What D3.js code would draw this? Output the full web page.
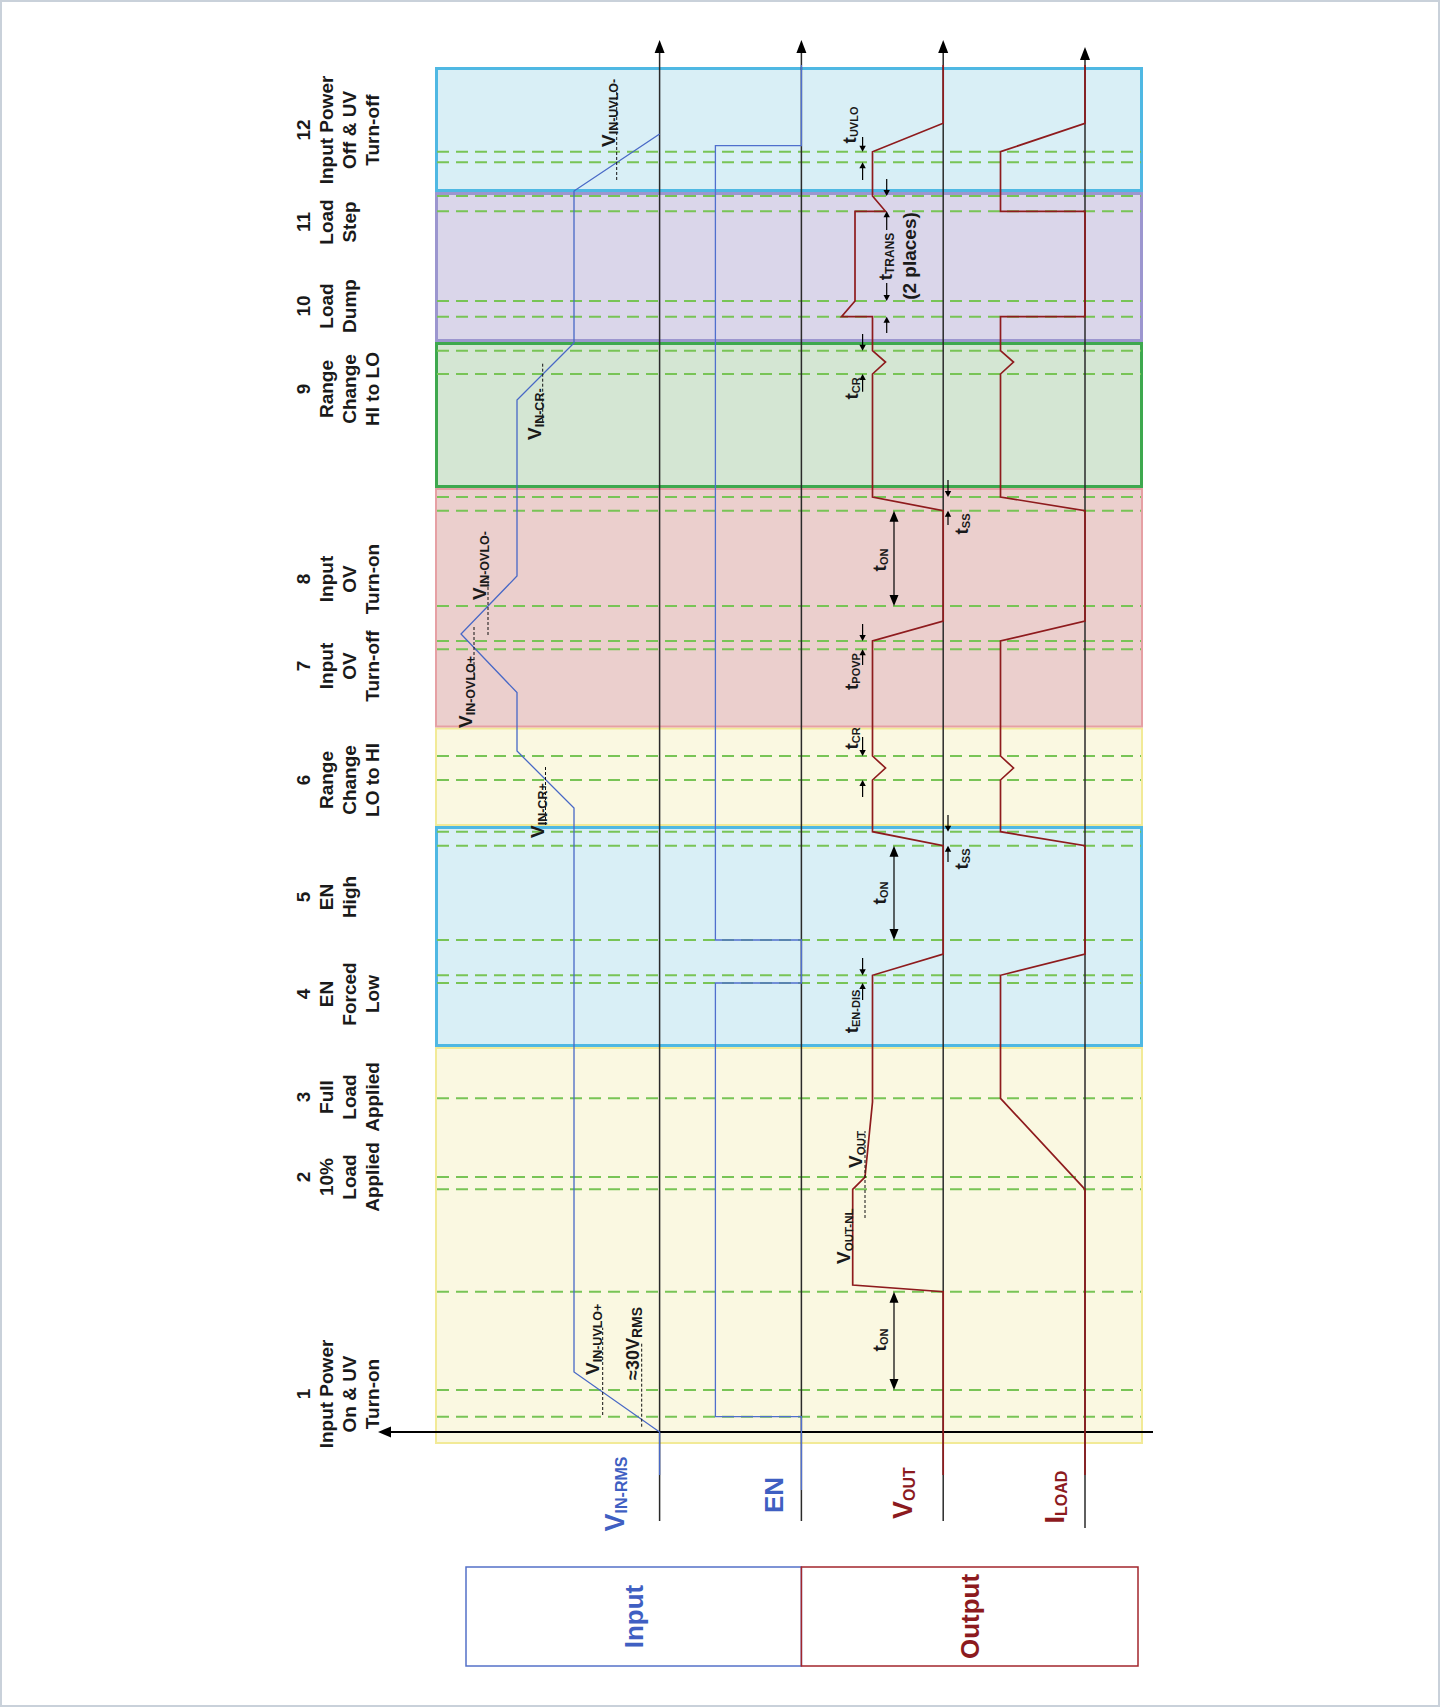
<!DOCTYPE html>
<html>
<head>
<meta charset="utf-8">
<script src="https://cdn.jsdelivr.net/npm/d3@7"></script>
<style>
  body { margin: 0; background: #fff; }
  svg { display: block; }
  text { font-family: "Liberation Sans", Arial, Helvetica, sans-serif; font-weight: bold; }
</style>
</head>
<body>
<svg id="chart" width="1440" height="1707"></svg>
<script>
// ---------------- data ----------------
// Signals (one vertical trace each) and their labels
const signalNames = ["VIN", "EN", "VOUT", "ILOAD"];
const signalMain  = ["V", "EN", "V", "I"];
const signalSub   = ["IN-RMS", "", "OUT", "LOAD"];
const signalGroup = ["input", "input", "output", "output"];
const axisTop     = [139.2, 139.2, 139.2, 138.5];
const axisBottom  = [-8.9, -8.9, -8.9, -9.6];

// Traces: [time, level]; level 0 sits on the signal's own axis
const vinTrace = [[-4.3,0],[0,0],[6.0,42.8],[62.4,42.8],[68.1,71.3],[73.95,71.3],[79.8,99.3],
  [85.6,71.3],[103.2,71.3],[108.9,42.8],[124.1,42.8],[129.8,0]];
const enTrace = [[-5.8,0],[1.53,0],[1.53,43],[44.9,43],[44.9,0],[49.2,0],[49.2,43],
  [128.63,43],[128.63,0],[136.7,0]];
const voutTrace = [[-4.3,0],[14.03,0],[14.7,45.25],[24.27,45.25],[25.5,39.1],[33.0,35.35],
  [45.67,35.35],[47.8,0],[58.63,0],[60.03,35.35],[65.2,35.35],[66.4,28.85],[67.6,35.35],
  [79.1,35.35],[81.1,0],[92.13,0],[93.5,35.35],[105.8,35.35],[107.0,28.85],[108.13,35.35],
  [111.53,35.35],[111.53,50.85],[113.1,44.1],[122.07,44.1],[122.07,28.85],[123.6,35.35],
  [128.03,35.35],[130.87,0],[136.7,0]];
const iloadTrace = [[-4.3,0],[24.27,0],[33.37,42.25],[45.67,42.25],[47.8,0],[58.63,0],
  [60.03,42.25],[65.2,42.25],[66.4,35.75],[67.6,42.25],[79.1,42.25],[81.1,0],[92.13,0],
  [93.5,42.25],[105.8,42.25],[107.0,35.75],[108.13,42.25],[111.53,42.25],[111.53,0],
  [122.07,0],[122.07,42.25],[128.03,42.25],[130.87,0],[136.7,0]];

// Event instants (green dashed guides)
const eventTimes = [1.53, 4.2, 14.03, 24.27, 25.5, 33.37, 44.9, 45.67, 49.2, 58.63, 60.03,
  65.2, 67.6, 78.27, 79.1, 82.6, 92.13, 93.5, 105.8, 108.13, 111.53, 113.1, 122.07, 123.6,
  126.97, 128.03];

// Operating phases (shaded bands)
const zoneBounds = [[-1.2,38.5],[38.5,60.6],[60.6,70.45],[70.45,94.4],[94.4,109.0],[109.0,124.0],[124.0,136.5]];
const zoneKinds  = ["yellow","cyan","yellow","pink","green","purple","cyan"];

// Phase captions
const stepNumbers = ["1","2","3","4","5","6","7","8","9","10","11","12"];
const stepText = [
  ["Input Power","On & UV","Turn-on"],
  ["10%","Load","Applied"],
  ["Full","Load","Applied"],
  ["EN","Forced","Low"],
  ["EN","High"],
  ["Range","Change","LO to HI"],
  ["Input","OV","Turn-off"],
  ["Input","OV","Turn-on"],
  ["Range","Change","HI to LO"],
  ["Load","Dump"],
  ["Load","Step"],
  ["Input Power","Off & UV","Turn-off"]
];
const stepCenters = [3.8, 25.5, 33.5, 43.8, 53.5, 65.2, 76.6, 85.3, 104.3, 112.6, 121.0, 130.2];

// Threshold markers (dotted reference + label)
const thresholdSignal = ["VIN","VIN","VIN","VIN","VIN","VIN","VIN","VOUT","VOUT"];
const thresholdMain   = ["V","≈30V","V","V","V","V","V","V","V"];
const thresholdSub    = ["IN-UVLO+","RMS","IN-CR+","IN-OVLO+","IN-OVLO-","IN-CR-","IN-UVLO-","OUT","OUT-NL"];
const thresholdLevel  = [28.45, 8.95, 57.05, 92.8, 85.8, 58.45, 21.45, 39.1, null];
const thresholdSpan   = [[1.7,10.43],[0.53,8.93],[60.7,66.5],[75.2,80.5],[79.7,85.5],[101.03,106.9],[125.2,134.03],[21.4,30.1], null];
const thresholdLabelStart = [5.7, 5.2, 59.4, 70.4, 83.2, 99.2, 128.5, 26.4, 16.8];
const thresholdLabelLevel = [30.3, 10.3, 57.8, 93.8, 86.8, 59.3, 22.3, 40.6, 46.6];

// Timing arrows on the output side: [level, tail time, tip time]
const timingArrows = [
  [40.3,47.4,45.67],[40.3,43.2,44.9],      // tEN-DIS
  [-2.4,61.7,60.03],[-2.4,57.0,58.63],     // tSS
  [40.3,69.5,67.6],[40.3,63.5,65.2],       // tCR
  [40.3,80.8,79.1],[40.3,76.7,78.27],      // tPOVP
  [-2.4,95.2,93.5],[-2.4,90.7,92.13],      // tSS
  [40.3,109.8,108.13],[40.3,104.03,105.8], // tCR
  [28.25,109.9,111.53],[28.25,114.9,113.1],// tTRANS (dump)
  [28.25,120.2,122.07],[28.25,125.3,123.6],// tTRANS (step)
  [40.3,129.5,128.03],[40.3,125.2,126.97]  // tUVLO
];
// Turn-on delay spans (double headed): [level, from, to]
const tonSpans = [[24.6,4.2,14.03],[24.6,49.2,58.63],[24.6,82.6,92.13]];

// Timing labels
const timingSub    = ["ON","ON","ON","EN-DIS","SS","CR","POVP","SS","CR","TRANS","UVLO"];
const timingCenter = [9.2, 53.9, 87.2, 42.05, 57.3, 69.35, 76.05, 90.8, 104.35, 117.55, 130.7];
const timingLevel  = [28.6, 28.6, 28.6, 42.6, -12.4, 42.6, 42.6, -12.4, 42.6, 25.6, 43.6];
const noteText = "(2 places)";
const noteCenter = 117.6;
const noteLevel = 13.6;

// Legend
const legendNames = ["Input", "Output"];

// ---------------- layout & scales ----------------
const svg = d3.select("#chart");
const W = 1440, H = 1707;
const plotLeft = 435, plotRight = 1143;

const y = d3.scaleLinear().domain([0, 139.2]).range([1432, 40]);
const axisX = d3.scalePoint().domain(signalNames).range([659.6, 1085]);
const amp = d3.scaleLinear().domain([0, 100]).range([0, 200]);
const xOf = (sig, v) => axisX(sig) - amp(v);

const BLUE = "#3f5fc2", RED = "#8c1a1e";
const zoneStyle = {
  yellow: { fill: "#faf8e1", stroke: "#f2ea97", sw: 2 },
  cyan:   { fill: "#d9eff6", stroke: "#4fb8e3", sw: 3 },
  pink:   { fill: "#ebcfcd", stroke: "#e6a0a4", sw: 2 },
  green:  { fill: "#d4e6d3", stroke: "#3ea84e", sw: 3 },
  purple: { fill: "#dad6ea", stroke: "#9c96cf", sw: 3 }
};

// page frame
svg.append("rect").attr("x", 1).attr("y", 1).attr("width", W - 2).attr("height", H - 2)
  .attr("fill", "#fff").attr("stroke", "#c9d1da").attr("stroke-width", 2);

// phase bands
const zones = zoneBounds.map((b, i) => ({ b, k: zoneKinds[i] }));
svg.append("g").selectAll("rect").data(zones).join("rect")
  .attr("x", d => plotLeft + zoneStyle[d.k].sw / 2)
  .attr("y", d => y(d.b[1]) + zoneStyle[d.k].sw / 2)
  .attr("width", d => plotRight - plotLeft - zoneStyle[d.k].sw)
  .attr("height", d => y(d.b[0]) - y(d.b[1]) - zoneStyle[d.k].sw)
  .attr("fill", d => zoneStyle[d.k].fill)
  .attr("stroke", d => zoneStyle[d.k].stroke)
  .attr("stroke-width", d => zoneStyle[d.k].sw);

// event guides
svg.append("g").selectAll("line").data(eventTimes).join("line")
  .attr("x1", plotLeft + 2).attr("x2", plotRight - 2)
  .attr("y1", d => y(d)).attr("y2", d => y(d))
  .attr("stroke", "#78c456").attr("stroke-width", 2).attr("stroke-dasharray", "12,7");

// signal axes with arrow heads
const axesG = svg.append("g");
signalNames.forEach((s, i) => {
  const x = axisX(s);
  axesG.append("line").attr("x1", x).attr("x2", x)
    .attr("y1", y(axisBottom[i])).attr("y2", y(axisTop[i]) + 6)
    .attr("stroke", "#2a2a2a").attr("stroke-width", 1.5);
  const ty = y(axisTop[i]);
  axesG.append("path").attr("d", `M${x},${ty} L${x - 5},${ty + 13} L${x + 5},${ty + 13} Z`).attr("fill", "#000");
});

// time axis (pointing left)
const taY = y(0), taL = 378, taR = 1153;
axesG.append("line").attr("x1", taR).attr("x2", taL + 8).attr("y1", taY).attr("y2", taY)
  .attr("stroke", "#000").attr("stroke-width", 2);
axesG.append("path").attr("d", `M${taL},${taY} L${taL + 13},${taY - 5.5} L${taL + 13},${taY + 5.5} Z`).attr("fill", "#000");

// traces
const traces = [
  { sig: "VIN", data: vinTrace, color: "#4868c6", w: 1.3 },
  { sig: "EN", data: enTrace, color: "#4f6fcd", w: 1.3 },
  { sig: "VOUT", data: voutTrace, color: "#8e1b1d", w: 1.7 },
  { sig: "ILOAD", data: iloadTrace, color: "#8e1b1d", w: 1.7 }
];
const traceG = svg.append("g").attr("fill", "none").attr("stroke-linejoin", "miter");
traces.forEach(t => {
  const line = d3.line().x(d => xOf(t.sig, d[1])).y(d => y(d[0]));
  traceG.append("path").attr("d", line(t.data)).attr("stroke", t.color).attr("stroke-width", t.w);
});

// helper for rotated text with a subscript
function rotatedLabel(g, x, yy, main, sub, o) {
  const grp = g.append("g").attr("transform", `translate(${x},${yy}) rotate(-90)`);
  const txt = grp.append("text").attr("text-anchor", o.anchor || "start").attr("fill", o.color || "#1a1a1a");
  txt.append("tspan").attr("font-size", o.size).text(main);
  if (sub) txt.append("tspan").attr("font-size", o.subSize).attr("dy", o.subShift).text(sub);
  return grp;
}

// threshold markers
const thrG = svg.append("g");
thresholdSub.forEach((sub, i) => {
  const s = thresholdSignal[i];
  if (thresholdLevel[i] !== null) {
    const x = xOf(s, thresholdLevel[i]);
    thrG.append("line").attr("x1", x).attr("x2", x)
      .attr("y1", y(thresholdSpan[i][0])).attr("y2", y(thresholdSpan[i][1]))
      .attr("stroke", "#111").attr("stroke-width", 1).attr("stroke-dasharray", "3,2");
  }
  const big = thresholdMain[i] !== "V";
  const subSize = big ? 14 : (s === "VIN" ? 12.5 : 11.5);
  rotatedLabel(thrG, xOf(s, thresholdLabelLevel[i]), y(thresholdLabelStart[i]), thresholdMain[i], sub,
    { size: big ? 18 : 19, subSize: subSize, subShift: 3, anchor: "start" });
});

// timing arrows
const arrG = svg.append("g");
function arrowHead(x, tipY, dir, len, half) {
  // dir = -1 means pointing up (toward smaller y), +1 pointing down
  const b = tipY - dir * len;
  arrG.append("path").attr("d", `M${x},${tipY} L${x - half},${b} L${x + half},${b} Z`).attr("fill", "#000");
}
timingArrows.forEach(a => {
  const x = xOf("VOUT", a[0]);
  const yt = y(a[1]), yp = y(a[2]);
  const dir = yp > yt ? 1 : -1;
  arrG.append("line").attr("x1", x).attr("x2", x).attr("y1", yt).attr("y2", yp - dir * 4)
    .attr("stroke", "#000").attr("stroke-width", 1.2);
  arrowHead(x, yp, dir, 6, 3.2);
});
tonSpans.forEach(a => {
  const x = xOf("VOUT", a[0]);
  const y1 = y(a[1]), y2 = y(a[2]);
  arrG.append("line").attr("x1", x).attr("x2", x).attr("y1", y1 - 8).attr("y2", y2 + 8)
    .attr("stroke", "#000").attr("stroke-width", 1.2);
  arrowHead(x, y1, 1, 11, 4.5);
  arrowHead(x, y2, -1, 11, 4.5);
});

// timing labels
timingSub.forEach((sub, i) => {
  rotatedLabel(arrG, xOf("VOUT", timingLevel[i]), y(timingCenter[i]), "t", sub,
    { size: 19, subSize: sub === "TRANS" ? 12 : 11, subShift: 2, anchor: "middle" });
});
arrG.append("g").attr("transform", `translate(${xOf("VOUT", noteLevel)},${y(noteCenter)}) rotate(-90)`)
  .append("text").attr("text-anchor", "middle").attr("font-size", 19).attr("fill", "#1a1a1a").text(noteText);

// phase captions on the left
const capG = svg.append("g");
stepNumbers.forEach((n, i) => {
  const g = capG.append("g").attr("transform", `translate(310,${y(stepCenters[i])}) rotate(-90)`);
  [n].concat(stepText[i]).forEach((ln, j) => {
    g.append("text").attr("x", 0).attr("y", j * 23).attr("text-anchor", "middle")
      .attr("font-size", 19).attr("fill", "#1a1a1a").text(ln);
  });
});

// signal names below the plot
const sigLabelX = [624, 783, 912, 1064];
const sigLabelCenter = [-6.2, -6.3, -6.1, -6.5];
signalNames.forEach((s, i) => {
  rotatedLabel(svg, sigLabelX[i], y(sigLabelCenter[i]), signalMain[i], signalSub[i],
    { size: signalSub[i] ? 27 : 26, subSize: 16, subShift: 3, anchor: "middle",
      color: signalGroup[i] === "input" ? BLUE : RED });
});

// legend boxes
const legTop = 1567, legBottom = 1666;
const legEdges = [466, axisX("EN"), 1138];
const legG = svg.append("g");
legendNames.forEach((name, i) => {
  const c = i === 0 ? BLUE : RED;
  const x0 = legEdges[i], x1 = legEdges[i + 1];
  legG.append("rect").attr("x", x0).attr("y", legTop).attr("width", x1 - x0).attr("height", legBottom - legTop)
    .attr("fill", "none").attr("stroke", i === 0 ? "#5470c8" : "#a2262c").attr("stroke-width", 1.5);
  legG.append("g").attr("transform", `translate(${(x0 + x1) / 2 + 9},${(legTop + legBottom) / 2}) rotate(-90)`)
    .append("text").attr("text-anchor", "middle").attr("font-size", 26).attr("fill", c).text(name);
});
</script>
</body>
</html>
